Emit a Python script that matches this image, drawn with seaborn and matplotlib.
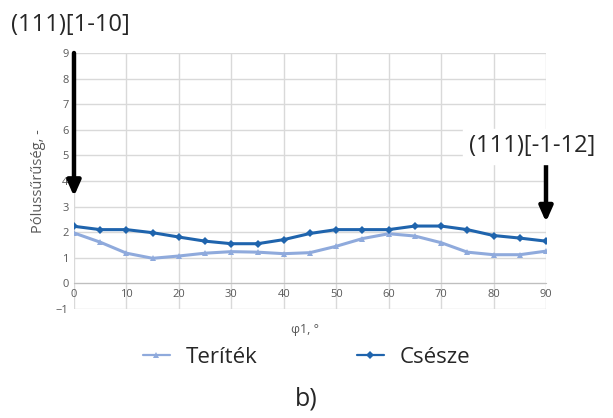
import matplotlib
matplotlib.use("Agg")
import matplotlib.pyplot as plt
import seaborn as sns
import pandas as pd

# phi1 angles and pole density values
phi1 = [0, 5, 10, 15, 20, 25, 30, 35, 40, 45, 50, 55, 60, 65, 70, 75, 80, 85, 90]
teritek = [1.97, 1.61, 1.18, 0.98, 1.07, 1.18, 1.24, 1.22, 1.16, 1.20, 1.45, 1.75,
           1.94, 1.85, 1.59, 1.22, 1.12, 1.12, 1.26]
csesze = [2.23, 2.10, 2.10, 1.98, 1.81, 1.65, 1.55, 1.55, 1.71, 1.95, 2.10, 2.10,
          2.10, 2.24, 2.24, 2.10, 1.87, 1.77, 1.65]
series_names = ["Teríték", "Csésze"]
y_ticks = list(range(-1, 10))
x_ticks = list(range(0, 91, 10))

df = pd.DataFrame({"phi1": phi1 * 2,
                   "value": teritek + csesze,
                   "series": [series_names[0]] * len(phi1) + [series_names[1]] * len(phi1)})

sns.set_style("whitegrid")
plt.rcParams["font.family"] = ["Open Sans", "DejaVu Sans"]

fig = plt.figure(figsize=(6.13, 4.18), dpi=100)
ax = fig.add_axes([0.1207, 0.2608, 0.77, 0.6124])

palette = {"Teríték": "#8FAADC", "Csésze": "#1F64AD"}
markers = {"Teríték": "^", "Csésze": "D"}
sns.lineplot(data=df, x="phi1", y="value", hue="series", style="series",
             palette=palette, markers=markers, dashes=False, markersize=4.5,
             linewidth=2.2, markeredgewidth=0, ax=ax, legend=False)

ax.set_xlim(0, 90)
ax.set_ylim(-1, 9)
ax.set_xticks(x_ticks)
ax.set_yticks(y_ticks)
ax.grid(True, color="#d9d9d9", linewidth=1)
for s in ["top", "right", "left"]:
    ax.spines[s].set_visible(False)
ax.spines["bottom"].set_position(("data", 0))
ax.spines["bottom"].set_color("#bfbfbf")
ax.tick_params(axis="both", length=0, labelsize=8, labelcolor="#595959", pad=4)
ax.set_xlabel("")
ax.set_ylabel("Pólussűrűség, -", fontsize=10.5, color="#595959", labelpad=7)
fig.text(0.497, 0.212, "φ1, °", fontsize=9, color="#595959", ha="center", va="center")

# arrows and direction labels
arrow_style = dict(arrowstyle="-|>,head_width=0.4,head_length=0.9",
                   color="black", lw=3.2, shrinkA=0, shrinkB=0)
ax.annotate("", xy=(0, 3.4), xytext=(0, 9.0), arrowprops=arrow_style,
            annotation_clip=False)
ax.annotate("", xy=(90, 2.4), xytext=(90, 4.7), arrowprops=arrow_style,
            annotation_clip=False)
fig.text(0.018, 0.94, "(111)[1-10]", fontsize=17, ha="left", va="center")
t = ax.text(75.3, 5.35, "(111)[-1-12]", fontsize=17, ha="left", va="center",
            backgroundcolor="white")
t.set_clip_on(False)

# legend
handles = [plt.Line2D([], [], color=palette[n], marker=markers[n], markersize=4,
                      markeredgewidth=0, linewidth=1.6) for n in series_names]
fig.legend(handles, series_names, loc="center", bbox_to_anchor=(0.5, 0.145),
           ncol=2, frameon=False, fontsize=16, columnspacing=4.5,
           handlelength=1.2, handletextpad=0.7)

fig.text(0.5, 0.045, "b)", fontsize=18, ha="center", va="center")

fig.savefig("out.png", dpi=100)
